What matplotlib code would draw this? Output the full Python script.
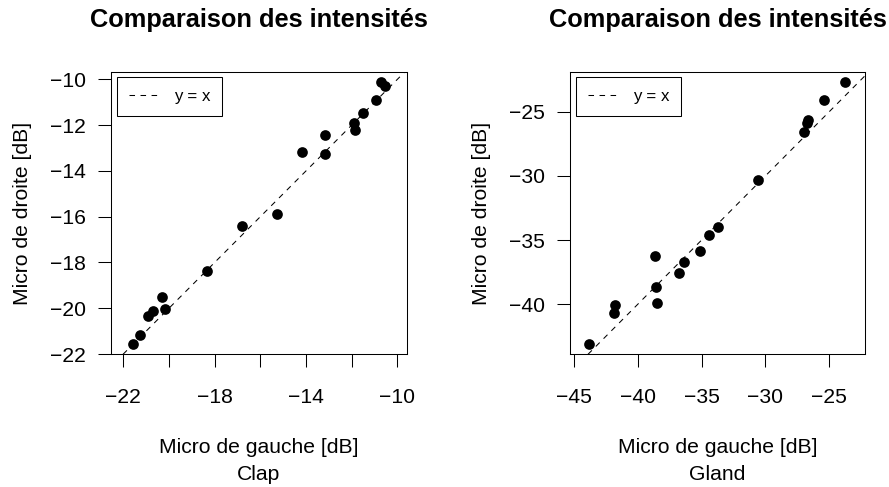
import numpy as np
import matplotlib.pyplot as plt

plt.rcParams['font.family'] = ['Liberation Sans', 'DejaVu Sans']

# Clap : intensites micro gauche / micro droite (dB)
clap_gauche = [-21.59, -21.27, -20.91, -20.72, -20.32, -20.16, -18.32, -16.82, -15.28,
               -14.16, -13.15, -13.15, -11.88, -11.85, -11.49, -10.95, -10.72, -10.53]
clap_droite = [-21.56, -21.17, -20.34, -20.11, -19.49, -20.02, -18.36, -16.41, -15.88,
               -13.17, -12.43, -13.26, -11.92, -12.21, -11.49, -10.90, -10.13, -10.28]

# Gland
gland_gauche = [-43.78, -41.88, -41.78, -38.64, -38.56, -38.45, -36.77, -36.35, -35.13,
                -34.40, -33.70, -30.61, -27.00, -26.72, -26.68, -25.42, -23.78]
gland_droite = [-43.12, -40.70, -40.08, -36.24, -38.63, -39.87, -37.59, -36.68, -35.87,
                -34.58, -33.95, -30.32, -26.56, -25.85, -25.62, -24.09, -22.72]

clap_xticks = [-22, -20, -18, -16, -14, -12, -10]
clap_xlabels = ['\u221222', '', '\u221218', '', '\u221214', '', '\u221210']
clap_yticks = [-22, -20, -18, -16, -14, -12, -10]
gland_xticks = [-45, -40, -35, -30, -25]
gland_yticks = [-40, -35, -30, -25]

titre = 'Comparaison des intensités'
xnom = 'Micro de gauche [dB]'
ynom = 'Micro de droite [dB]'

BASE = 15.2

fig = plt.figure(figsize=(8.89, 4.87), dpi=100)


def panneau(rect, x, y, xlim, ylim, xticks, xlabels, yticks, nom):
    ax = fig.add_axes(rect)
    ax.plot(x, y, 'o', color='black', markersize=7.7, markeredgewidth=0, zorder=3)
    ax.axline((0, 0), slope=1, color='black', lw=0.75, linestyle=(0, (5.3, 5.3)),
              label='y = x')
    ax.set_xlim(xlim)
    ax.set_ylim(ylim)
    ax.set_xticks(xticks)
    if xlabels is None:
        xlabels = ['\u2212%d' % abs(v) for v in xticks]
    ax.set_xticklabels(xlabels)
    ax.set_yticks(yticks)
    ax.set_yticklabels(['\u2212%d' % abs(v) for v in yticks])
    ax.tick_params(axis='x', length=9.5, width=0.75, pad=14.5, labelsize=BASE)
    ax.tick_params(axis='y', length=9.5, width=0.75, pad=8.6, labelsize=BASE)
    for s in ax.spines.values():
        s.set_linewidth(0.75)
    ax.set_title(titre, fontsize=18.3, fontweight='bold', y=1.159, pad=0)
    ax.text(0.5, -0.349, xnom, transform=ax.transAxes, ha='center', va='baseline',
            fontsize=BASE)
    ax.text(0.5, -0.445, nom, transform=ax.transAxes, ha='center', va='baseline',
            fontsize=BASE)
    ax.text(-0.30, 0.5, ynom, transform=ax.transAxes, ha='center', va='center',
            rotation=90, fontsize=BASE)
    leg = ax.legend(loc='upper left', fontsize=12.2, frameon=True, fancybox=False,
                    framealpha=1, edgecolor='black', borderaxespad=0.34,
                    borderpad=0.7, handlelength=1.75, handletextpad=0.9)
    leg.get_frame().set_linewidth(0.75)
    return ax


panneau([111 / 889, 1 - 354.3 / 487, 296 / 889, 282.6 / 487],
        clap_gauche, clap_droite, (-22.54, -9.58), (-22.013, -9.668),
        clap_xticks, clap_xlabels, clap_yticks, 'Clap')
panneau([570 / 889, 1 - 354.3 / 487, 295 / 889, 282.6 / 487],
        gland_gauche, gland_droite, (-45.3, -22.2), (-43.89, -21.885),
        gland_xticks, None, gland_yticks, 'Gland')

fig.savefig('out.png', dpi=100)
